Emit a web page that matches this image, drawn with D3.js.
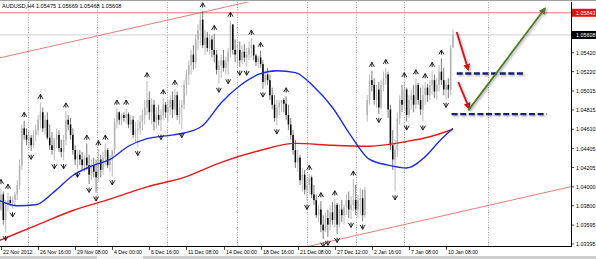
<!DOCTYPE html>
<html>
<head>
<meta charset="utf-8">
<script src="https://cdnjs.cloudflare.com/ajax/libs/d3/7.8.5/d3.min.js"></script>
<style>
  body { margin: 0; background: #fff; }
  #chart text { font-family: "Liberation Sans", Arial, sans-serif; }
</style>
</head>
<body>
<div id="chart"></div>
<script>
// AUDUSD H4 bars
const symbol = 'AUDUSD,H4';

const opens = [
  1.0381, 1.0376, 1.0392, 1.0365, 1.0381, 1.0386, 1.0383, 1.0386, 1.0392, 1.0402,
  1.0423, 1.0462, 1.0455, 1.0450, 1.0452, 1.0444, 1.0455, 1.0460, 1.0471, 1.0479,
  1.0462, 1.0471, 1.0452, 1.0444, 1.0439, 1.0450, 1.0455, 1.0441, 1.0437, 1.0450,
  1.0471, 1.0466, 1.0455, 1.0439, 1.0429, 1.0434, 1.0429, 1.0423, 1.0431, 1.0423,
  1.0413, 1.0423, 1.0416, 1.0410, 1.0429, 1.0418, 1.0431, 1.0439, 1.0423, 1.0429,
  1.0439, 1.0469, 1.0479, 1.0471, 1.0476, 1.0473, 1.0477, 1.0466, 1.0471, 1.0455,
  1.0460, 1.0462, 1.0469, 1.0476, 1.0484, 1.0492, 1.0479, 1.0487, 1.0469, 1.0476,
  1.0471, 1.0476, 1.0487, 1.0479, 1.0484, 1.0492, 1.0482, 1.0497, 1.0476, 1.0484,
  1.0487, 1.0508, 1.0519, 1.0529, 1.0540, 1.0532, 1.0556, 1.0566, 1.0577, 1.0550,
  1.0558, 1.0547, 1.0556, 1.0545, 1.0540, 1.0524, 1.0529, 1.0534, 1.0526, 1.0532,
  1.0543, 1.0572, 1.0545, 1.0540, 1.0545, 1.0534, 1.0543, 1.0537, 1.0540, 1.0547,
  1.0550, 1.0539, 1.0532, 1.0537, 1.0530, 1.0511, 1.0519, 1.0513, 1.0497, 1.0487,
  1.0473, 1.0484, 1.0489, 1.0492, 1.0488, 1.0476, 1.0466, 1.0455, 1.0439, 1.0426,
  1.0431, 1.0407, 1.0413, 1.0397, 1.0402, 1.0410, 1.0392, 1.0386, 1.0370, 1.0376,
  1.0360, 1.0354, 1.0367, 1.0360, 1.0373, 1.0365, 1.0381, 1.0360, 1.0376, 1.0370,
  1.0378, 1.0386, 1.0376, 1.0381, 1.0386, 1.0376, 1.0386, 1.0388, 1.0370, 1.0476,
  1.0492, 1.0513, 1.0508, 1.0492, 1.0503, 1.0484, 1.0508, 1.0515, 1.0519, 1.0482,
  1.0444, 1.0429, 1.0439, 1.0473, 1.0492, 1.0487, 1.0503, 1.0476, 1.0492, 1.0497,
  1.0487, 1.0508, 1.0492, 1.0482, 1.0497, 1.0505, 1.0497, 1.0508, 1.0513, 1.0501,
  1.0508, 1.0522, 1.0513, 1.0503, 1.0508, 1.0503, 1.05475
];
const highs = [
  1.0392, 1.0399, 1.0395, 1.0386, 1.0394, 1.0390, 1.0390, 1.0395, 1.0407, 1.0429,
  1.0466, 1.0470, 1.0462, 1.0458, 1.0455, 1.0460, 1.0466, 1.0476, 1.0489, 1.0484,
  1.0476, 1.0479, 1.0466, 1.0458, 1.0452, 1.0462, 1.0460, 1.0450, 1.0455, 1.0480,
  1.0476, 1.0473, 1.0462, 1.0444, 1.0439, 1.0439, 1.0437, 1.0434, 1.0446, 1.0434,
  1.0429, 1.0431, 1.0429, 1.0440, 1.0434, 1.0437, 1.0446, 1.0441, 1.0434, 1.0439,
  1.0473, 1.0483, 1.0480, 1.0478, 1.0479, 1.0483, 1.0479, 1.0476, 1.0475, 1.0469,
  1.0471, 1.0476, 1.0482, 1.0492, 1.0512, 1.0501, 1.0494, 1.0492, 1.0484, 1.0487,
  1.0482, 1.0494, 1.0490, 1.0492, 1.0497, 1.0501, 1.0504, 1.0501, 1.0492, 1.0492,
  1.0513, 1.0524, 1.0534, 1.0545, 1.0550, 1.0561, 1.0572, 1.0584, 1.0586, 1.0566,
  1.0564, 1.0561, 1.0560, 1.0562, 1.0545, 1.0534, 1.0540, 1.0545, 1.0537, 1.0547,
  1.0576, 1.0572, 1.0556, 1.0550, 1.0554, 1.0550, 1.0551, 1.0547, 1.0554, 1.0557,
  1.0551, 1.0541, 1.0539, 1.0544, 1.0534, 1.0524, 1.0526, 1.0519, 1.0505, 1.0497,
  1.0492, 1.0492, 1.0492, 1.0494, 1.0496, 1.0487, 1.0473, 1.0460, 1.0450, 1.0439,
  1.0434, 1.0420, 1.0418, 1.0410, 1.0414, 1.0412, 1.0402, 1.0392, 1.0381, 1.0385,
  1.0370, 1.0373, 1.0376, 1.0381, 1.0384, 1.0387, 1.0383, 1.0381, 1.0386, 1.0381,
  1.0392, 1.0395, 1.0390, 1.0408, 1.0402, 1.0392, 1.0399, 1.0397, 1.0400, 1.0497,
  1.0519, 1.0523, 1.0515, 1.0508, 1.0511, 1.0513, 1.0522, 1.0526, 1.0522, 1.0487,
  1.0460, 1.0450, 1.0479, 1.0497, 1.0508, 1.0512, 1.0505, 1.0497, 1.0503, 1.0508,
  1.0515, 1.0510, 1.0505, 1.0508, 1.0511, 1.0509, 1.0513, 1.0523, 1.0519, 1.0515,
  1.0529, 1.0536, 1.0526, 1.0513, 1.0515, 1.0550, 1.05669
];
const lows = [
  1.0370, 1.0374, 1.0360, 1.0352, 1.0374, 1.0380, 1.0377, 1.0381, 1.0386, 1.0397,
  1.0418, 1.0450, 1.0444, 1.0441, 1.0438, 1.0441, 1.0448, 1.0455, 1.0462, 1.0458,
  1.0455, 1.0450, 1.0439, 1.0434, 1.0428, 1.0441, 1.0437, 1.0431, 1.0428, 1.0444,
  1.0460, 1.0450, 1.0434, 1.0423, 1.0419, 1.0423, 1.0418, 1.0416, 1.0418, 1.0403,
  1.0407, 1.0410, 1.0394, 1.0405, 1.0410, 1.0413, 1.0423, 1.0420, 1.0416, 1.0411,
  1.0434, 1.0462, 1.0466, 1.0465, 1.0469, 1.0467, 1.0462, 1.0458, 1.0452, 1.0447,
  1.0442, 1.0455, 1.0460, 1.0466, 1.0476, 1.0471, 1.0466, 1.0460, 1.0462, 1.0465,
  1.0459, 1.0471, 1.0473, 1.0469, 1.0476, 1.0473, 1.0476, 1.0471, 1.0466, 1.0461,
  1.0482, 1.0497, 1.0508, 1.0519, 1.0524, 1.0526, 1.0545, 1.0550, 1.0547, 1.0540,
  1.0543, 1.0540, 1.0537, 1.0532, 1.0519, 1.0509, 1.0515, 1.0522, 1.0519, 1.0518,
  1.0537, 1.0540, 1.0532, 1.0528, 1.0527, 1.0530, 1.0532, 1.0527, 1.0534, 1.0537,
  1.0534, 1.0528, 1.0526, 1.0526, 1.0504, 1.0507, 1.0508, 1.0492, 1.0482, 1.0469,
  1.0465, 1.0476, 1.0479, 1.0479, 1.0471, 1.0460, 1.0450, 1.0434, 1.0420, 1.0416,
  1.0402, 1.0395, 1.0392, 1.0385, 1.0392, 1.0388, 1.0381, 1.0367, 1.0363, 1.0352,
  1.0345, 1.0352, 1.0347, 1.0354, 1.0360, 1.0357, 1.0350, 1.0357, 1.0363, 1.0360,
  1.0370, 1.0367, 1.0366, 1.0374, 1.0370, 1.0367, 1.0370, 1.0364, 1.0367, 1.0469,
  1.0487, 1.0501, 1.0487, 1.0484, 1.0477, 1.0482, 1.0501, 1.0508, 1.0473, 1.0439,
  1.0418, 1.0395, 1.0431, 1.0466, 1.0479, 1.0482, 1.0469, 1.0473, 1.0482, 1.0479,
  1.0482, 1.0487, 1.0476, 1.0469, 1.0487, 1.0490, 1.0492, 1.0497, 1.0494, 1.0492,
  1.0501, 1.0508, 1.0497, 1.0493, 1.0494, 1.0497, 1.05468
];
const closes = [
  1.0376, 1.0392, 1.0365, 1.0381, 1.0386, 1.0383, 1.0386, 1.0392, 1.0402, 1.0423,
  1.0462, 1.0455, 1.0450, 1.0452, 1.0444, 1.0455, 1.0460, 1.0471, 1.0479, 1.0462,
  1.0471, 1.0452, 1.0444, 1.0439, 1.0450, 1.0455, 1.0441, 1.0437, 1.0450, 1.0471,
  1.0466, 1.0455, 1.0439, 1.0429, 1.0434, 1.0429, 1.0423, 1.0431, 1.0423, 1.0413,
  1.0423, 1.0416, 1.0410, 1.0429, 1.0418, 1.0431, 1.0439, 1.0423, 1.0429, 1.0439,
  1.0469, 1.0479, 1.0471, 1.0476, 1.0473, 1.0477, 1.0466, 1.0471, 1.0455, 1.0460,
  1.0462, 1.0469, 1.0476, 1.0484, 1.0492, 1.0479, 1.0487, 1.0469, 1.0476, 1.0471,
  1.0476, 1.0487, 1.0479, 1.0484, 1.0492, 1.0482, 1.0497, 1.0476, 1.0484, 1.0487,
  1.0508, 1.0519, 1.0529, 1.0540, 1.0532, 1.0556, 1.0566, 1.0577, 1.0550, 1.0558,
  1.0547, 1.0556, 1.0545, 1.0540, 1.0524, 1.0529, 1.0534, 1.0526, 1.0532, 1.0543,
  1.0572, 1.0545, 1.0540, 1.0545, 1.0534, 1.0543, 1.0537, 1.0540, 1.0547, 1.0550,
  1.0539, 1.0532, 1.0537, 1.0530, 1.0511, 1.0519, 1.0513, 1.0497, 1.0487, 1.0473,
  1.0484, 1.0489, 1.0492, 1.0488, 1.0476, 1.0466, 1.0455, 1.0439, 1.0426, 1.0431,
  1.0407, 1.0413, 1.0397, 1.0402, 1.0410, 1.0392, 1.0386, 1.0370, 1.0376, 1.0360,
  1.0354, 1.0367, 1.0360, 1.0373, 1.0365, 1.0381, 1.0360, 1.0376, 1.0370, 1.0378,
  1.0386, 1.0376, 1.0381, 1.0386, 1.0376, 1.0386, 1.0388, 1.0370, 1.0397, 1.0492,
  1.0513, 1.0508, 1.0492, 1.0503, 1.0484, 1.0508, 1.0515, 1.0519, 1.0482, 1.0444,
  1.0429, 1.0439, 1.0473, 1.0492, 1.0487, 1.0503, 1.0476, 1.0492, 1.0497, 1.0487,
  1.0508, 1.0492, 1.0482, 1.0497, 1.0505, 1.0497, 1.0508, 1.0513, 1.0501, 1.0508,
  1.0522, 1.0513, 1.0503, 1.0508, 1.0503, 1.0547, 1.05608
];

// fractal bars (index into the arrays above)
const fractalUp = [1, 4, 11, 18, 29, 38, 43, 46, 51, 55, 64, 71, 76, 88, 93, 100, 109, 113,
  124, 134, 139, 145, 153, 161, 167, 175, 180, 184, 187, 191];
const fractalDown = [3, 6, 14, 24, 28, 34, 39, 42, 49, 60, 70, 79, 95, 99, 104, 107, 114,
  120, 133, 140, 142, 146, 152, 157, 164, 171, 176, 183, 193];

// moving averages sampled at bar indices
const maBars = [0, 8, 16, 24, 32, 40, 48, 56, 64, 72, 80, 88, 96, 104, 112, 120, 128, 136,
  144, 152, 160, 168, 176, 184, 190, 196];
const maBlue = [1.0386, 1.0380, 1.0381, 1.0395, 1.0412, 1.0422, 1.0429, 1.0443, 1.0451,
  1.0454, 1.0457, 1.0465, 1.0489, 1.0507, 1.0519, 1.0523, 1.0521, 1.0506, 1.0484, 1.0454,
  1.0429, 1.0423, 1.0420, 1.0432, 1.0448, 1.0462];
const maRedBars = [0, 16, 32, 48, 64, 80, 96, 112, 128, 144, 160, 176, 186, 196];
const maRed = [1.0343, 1.0359, 1.0375, 1.0387, 1.0400, 1.0410, 1.0426, 1.0438, 1.0446,
  1.0444, 1.0443, 1.0448, 1.0453, 1.0461];

// axis labels
const timeLabels = ['22 Nov 2012', '26 Nov 16:00', '29 Nov 08:00', '4 Dec 00:00', '6 Dec 16:00',
  '11 Dec 08:00', '14 Dec 00:00', '18 Dec 16:00', '21 Dec 08:00', '27 Dec 12:00',
  '2 Jan 16:00', '7 Jan 08:00', '10 Jan 08:00'];
const timeLabelBars = [1, 17, 33, 49, 65, 81, 97, 113, 129, 145, 161, 177, 193];
const gridBars = [12.6, 42.6, 72.6, 102.8, 133, 154.1, 174.8, 211.1];
const priceTicks = [1.05420, 1.05220, 1.05015, 1.04815, 1.04610, 1.04405, 1.04205,
  1.04000, 1.03800, 1.03595, 1.03395];

// drawn objects
const resistance = 1.05843;
const channelUpper = [[0, 1.05363], [86, 1.05838]];
const channelLower = [[173, 1.03590], [246, 1.03997]];
const dashedLevels = [[197.6, 227.0, 1.0520], [195.4, 236.4, 1.0477]];
const redArrows = [[[197.6, 1.0564], [202.6, 1.0524]], [[198.3, 1.0511], [203.0, 1.0483]]];
const greenArrow = [[202.6, 1.0481], [235.7, 1.0589]];

function PriceChart() {
    this.init();
}

PriceChart.prototype.init = function() {
    let vis = this;

    vis.width = 596;
    vis.height = 259;
    vis.plotRight = 571;
    vis.plotTop = 2;
    vis.plotBottom = 246;

    vis.svg = d3.select('#chart').append('svg')
        .attr('width', vis.width)
        .attr('height', vis.height);

    vis.x = d3.scaleLinear().domain([0, 196]).range([-1.3, 453]);
    vis.y = d3.scaleLinear().domain([1.03374, 1.05957]).range([vis.plotBottom, vis.plotTop]);

    let defs = vis.svg.append('defs');
    defs.append('clipPath').attr('id', 'plot-clip')
        .append('rect')
        .attr('x', 0).attr('y', vis.plotTop)
        .attr('width', vis.plotRight).attr('height', vis.plotBottom - vis.plotTop);

    let shadow = defs.append('filter').attr('id', 'shadow')
        .attr('x', '-20%').attr('y', '-20%').attr('width', '140%').attr('height', '140%');
    shadow.append('feDropShadow')
        .attr('dx', 1.2).attr('dy', 1.2).attr('stdDeviation', 0.9)
        .attr('flood-color', '#000').attr('flood-opacity', 0.35);

    [['head-red', '#c8161d'], ['head-green', '#4d7a2a']].forEach(([id, col]) => {
        defs.append('marker').attr('id', id)
            .attr('viewBox', '0 0 10 10').attr('refX', 8).attr('refY', 5)
            .attr('markerUnits', 'userSpaceOnUse')
            .attr('markerWidth', 7).attr('markerHeight', 7)
            .attr('orient', 'auto')
            .append('path').attr('d', 'M0,0 L10,5 L0,10 Z').attr('fill', col);
    });

    vis.plot = vis.svg.append('g').attr('clip-path', 'url(#plot-clip)');
}

PriceChart.prototype.update = function() {
    let vis = this;

    let bars = closes.map((c, i) => ({ i: i, o: opens[i], h: highs[i], l: lows[i], c: c }));

    // window frame
    vis.svg.append('line')
        .attr('x1', 0).attr('x2', vis.width).attr('y1', 0.5).attr('y2', 0.5)
        .attr('stroke', '#a0a0a0');

    // dotted time grid
    vis.plot.selectAll('.grid').data(gridBars).join('line')
        .attr('class', 'grid')
        .attr('x1', d => Math.round(vis.x(d)) + 0.5)
        .attr('x2', d => Math.round(vis.x(d)) + 0.5)
        .attr('y1', vis.plotTop).attr('y2', vis.plotBottom)
        .attr('stroke', '#777').attr('stroke-width', 0.7)
        .attr('stroke-dasharray', '1,1.5');

    // bid line and resistance
    let last = bars[bars.length - 1];
    vis.plot.append('line')
        .attr('x1', 0).attr('x2', vis.plotRight)
        .attr('y1', vis.y(last.c)).attr('y2', vis.y(last.c))
        .attr('stroke', '#c4c4c4').attr('stroke-width', 0.8);
    vis.plot.append('line')
        .attr('x1', 0).attr('x2', vis.plotRight)
        .attr('y1', vis.y(resistance)).attr('y2', vis.y(resistance))
        .attr('stroke', '#e06a6a').attr('stroke-width', 0.9);

    // channel lines, extended across the window
    [channelUpper, channelLower].forEach(pts => {
        let slope = (pts[1][1] - pts[0][1]) / (pts[1][0] - pts[0][0]);
        let b0 = -10, b1 = 260;
        vis.plot.append('line')
            .attr('x1', vis.x(b0)).attr('y1', vis.y(pts[0][1] + slope * (b0 - pts[0][0])))
            .attr('x2', vis.x(b1)).attr('y2', vis.y(pts[0][1] + slope * (b1 - pts[0][0])))
            .attr('stroke', '#e05a5a').attr('stroke-width', 0.8);
    });

    // candles
    let bw = 1.5;
    let candle = vis.plot.selectAll('.candle').data(bars).join('g').attr('class', 'candle');
    candle.append('line')
        .attr('x1', d => vis.x(d.i)).attr('x2', d => vis.x(d.i))
        .attr('y1', d => vis.y(d.h)).attr('y2', d => vis.y(d.l))
        .attr('stroke', d => d.c >= d.o ? '#8c8c8c' : '#222')
        .attr('stroke-width', 0.6);
    candle.append('rect')
        .attr('x', d => vis.x(d.i) - bw / 2)
        .attr('width', bw)
        .attr('y', d => vis.y(Math.max(d.o, d.c)))
        .attr('height', d => Math.max(0.8, Math.abs(vis.y(d.o) - vis.y(d.c))))
        .attr('fill', d => d.c >= d.o ? '#b2b2b2' : '#000');

    // moving averages
    let blueLine = d3.line().x((d, i) => vis.x(maBars[i])).y(d => vis.y(d)).curve(d3.curveMonotoneX);
    let redLine = d3.line().x((d, i) => vis.x(maRedBars[i])).y(d => vis.y(d)).curve(d3.curveMonotoneX);
    vis.plot.append('path').attr('d', redLine(maRed))
        .attr('fill', 'none').attr('stroke', '#e01b1b').attr('stroke-width', 1.4);
    vis.plot.append('path').attr('d', blueLine(maBlue))
        .attr('fill', 'none').attr('stroke', '#1c2cd4').attr('stroke-width', 1.4);

    // fractals
    let upGlyph = 'M-2.5,2 L0,-2.4 L2.5,2 M0,-2.4 L0,2.4';
    let downGlyph = 'M-2.5,-2 L0,2.4 L2.5,-2 M0,2.4 L0,-2.4';
    vis.plot.selectAll('.fr-up').data(fractalUp).join('path')
        .attr('class', 'fr-up')
        .attr('d', upGlyph)
        .attr('transform', d => `translate(${vis.x(d)},${vis.y(highs[d]) - 6})`)
        .attr('fill', 'none').attr('stroke', '#222').attr('stroke-width', 1);
    vis.plot.selectAll('.fr-down').data(fractalDown).join('path')
        .attr('class', 'fr-down')
        .attr('d', downGlyph)
        .attr('transform', d => `translate(${vis.x(d)},${vis.y(lows[d]) + 6})`)
        .attr('fill', 'none').attr('stroke', '#222').attr('stroke-width', 1);

    // hand drawn annotations
    let notes = vis.plot.append('g').attr('filter', 'url(#shadow)');
    notes.selectAll('.level').data(dashedLevels).join('line')
        .attr('x1', d => vis.x(d[0])).attr('x2', d => vis.x(d[1]))
        .attr('y1', d => vis.y(d[2])).attr('y2', d => vis.y(d[2]))
        .attr('stroke', '#1b1f72').attr('stroke-width', 2.4)
        .attr('stroke-dasharray', '6,2.6');
    notes.selectAll('.red-arrow').data(redArrows).join('line')
        .attr('x1', d => vis.x(d[0][0])).attr('y1', d => vis.y(d[0][1]))
        .attr('x2', d => vis.x(d[1][0])).attr('y2', d => vis.y(d[1][1]))
        .attr('stroke', '#c8161d').attr('stroke-width', 1.8)
        .attr('marker-end', 'url(#head-red)');
    notes.append('line')
        .attr('x1', vis.x(greenArrow[0][0])).attr('y1', vis.y(greenArrow[0][1]))
        .attr('x2', vis.x(greenArrow[1][0])).attr('y2', vis.y(greenArrow[1][1]))
        .attr('stroke', '#4d7a2a').attr('stroke-width', 1.8)
        .attr('marker-end', 'url(#head-green)');

    // title
    let fmt = d3.format('.5f');
    vis.svg.append('text')
        .attr('x', 2).attr('y', 8)
        .attr('font-size', 5.6)
        .text(`${symbol} ${fmt(last.o)} ${fmt(last.h)} ${fmt(last.l)} ${fmt(last.c)}`);

    // price axis
    vis.svg.append('line')
        .attr('x1', vis.plotRight + 0.5).attr('x2', vis.plotRight + 0.5)
        .attr('y1', vis.plotTop).attr('y2', vis.plotBottom)
        .attr('stroke', '#000').attr('stroke-width', 1);
    let pt = vis.svg.selectAll('.ptick').data(priceTicks).join('g')
        .attr('class', 'ptick')
        .attr('transform', d => `translate(0,${vis.y(d)})`);
    pt.append('line').attr('x1', vis.plotRight).attr('x2', vis.plotRight + 3)
        .attr('stroke', '#000').attr('stroke-width', 0.7);
    pt.append('text').attr('x', vis.plotRight + 5).attr('y', 2)
        .attr('font-size', 5.4).text(d => fmt(d));

    [[resistance, '#e01010'], [last.c, '#000']].forEach(([p, col]) => {
        let yy = vis.y(p);
        vis.svg.append('rect')
            .attr('x', vis.plotRight + 1).attr('y', yy - 4)
            .attr('width', vis.width - vis.plotRight - 1).attr('height', 8)
            .attr('fill', col);
        vis.svg.append('text')
            .attr('x', vis.plotRight + 5).attr('y', yy + 2)
            .attr('font-size', 5.4).attr('fill', '#fff')
            .text(fmt(p));
    });

    // time axis
    vis.svg.append('line')
        .attr('x1', 0).attr('x2', vis.plotRight + 1)
        .attr('y1', vis.plotBottom + 0.5).attr('y2', vis.plotBottom + 0.5)
        .attr('stroke', '#000').attr('stroke-width', 1);
    let tt = vis.svg.selectAll('.ttick').data(timeLabels).join('g')
        .attr('class', 'ttick')
        .attr('transform', (d, i) => `translate(${Math.round(vis.x(timeLabelBars[i])) + 0.5},0)`);
    tt.append('line').attr('y1', vis.plotBottom).attr('y2', vis.plotBottom + 4)
        .attr('stroke', '#000').attr('stroke-width', 0.7);
    tt.append('text').attr('x', 1.5).attr('y', vis.plotBottom + 8)
        .attr('font-size', 5.2).text(d => d);

    // scroll strip at the bottom
    vis.svg.append('rect').attr('x', 0).attr('y', 256).attr('width', vis.width).attr('height', 3)
        .attr('fill', '#cfcfcf');
    vis.svg.append('rect').attr('x', 97).attr('y', 256).attr('width', 46).attr('height', 3)
        .attr('fill', '#f2f2f2');
}

let chart = new PriceChart();
chart.update();
</script>
</body>
</html>
